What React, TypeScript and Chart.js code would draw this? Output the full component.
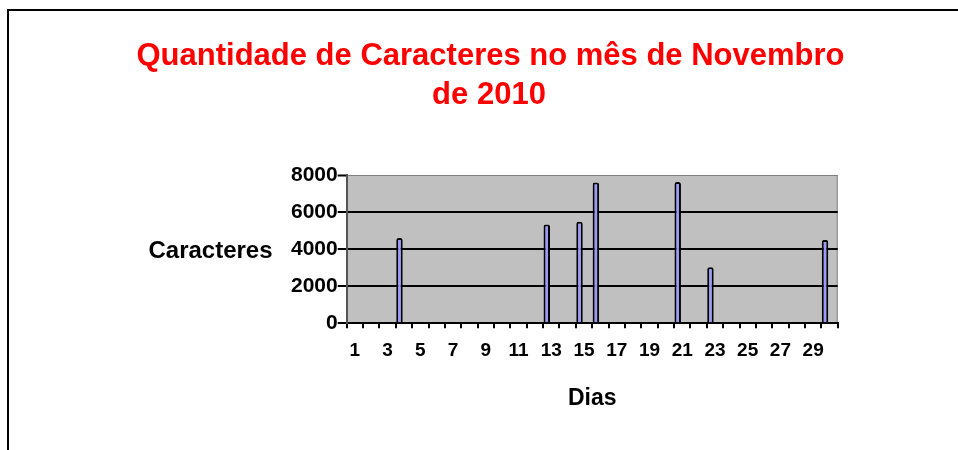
import React, { useEffect, useRef } from "react";
import { Chart, registerables } from "chart.js";

Chart.register(...registerables);

const TITLE_LINES = ["Quantidade de Caracteres no mês de Novembro", "de 2010"];
const Y_TITLE = "Caracteres";
const X_TITLE = "Dias";
const DAYS = [
  "1", "2", "3", "4", "5", "6", "7", "8", "9", "10",
  "11", "12", "13", "14", "15", "16", "17", "18", "19", "20",
  "21", "22", "23", "24", "25", "26", "27", "28", "29", "30",
];
const CHARACTERS = [
  0, 0, 0, 4600, 0, 0, 0, 0, 0, 0,
  0, 0, 5330, 0, 5480, 7590, 0, 0, 0, 0,
  7620, 0, 3020, 0, 0, 0, 0, 0, 0, 4500,
];
const EMPTY_SERIES = DAYS.map(() => null);
const Y_MIN = 0;
const Y_MAX = 8000;
const Y_STEP = 2000;

const FONT = "'Liberation Sans', Arial, Helvetica, sans-serif";

export default function App() {
  const canvasRef = useRef<HTMLCanvasElement | null>(null);

  useEffect(() => {
    const canvas = canvasRef.current;
    if (!canvas) return;

    const plotDecor = {
      id: "plotDecor",
      beforeDraw(chart: any) {
        const { ctx, chartArea } = chart;
        const { left, top, right, bottom } = chartArea;
        ctx.save();
        ctx.fillStyle = "#c0c0c0";
        ctx.fillRect(left, top, right - left, bottom - top);
        ctx.strokeStyle = "#808080";
        ctx.lineWidth = 1;
        ctx.beginPath();
        ctx.moveTo(left, top + 0.5);
        ctx.lineTo(right - 0.5, top + 0.5);
        ctx.lineTo(right - 0.5, bottom);
        ctx.stroke();

        ctx.textAlign = "center";
        ctx.textBaseline = "alphabetic";
        ctx.fillStyle = "#ff0000";
        ctx.font = `bold 31px ${FONT}`;
        ctx.fillText(TITLE_LINES[0], 490.5, 65);
        ctx.fillText(TITLE_LINES[1], 489, 103.5);

        ctx.fillStyle = "#000";
        ctx.font = `bold 24px ${FONT}`;
        ctx.fillText(Y_TITLE, 210.5, 257.5);
        ctx.restore();
      },
    };

    const chart = new Chart(canvas, {
      type: "bar",
      data: {
        labels: DAYS,
        datasets: [
          {
            label: Y_TITLE,
            data: CHARACTERS,
            backgroundColor: "#9999ff",
            borderColor: "#000000",
            borderWidth: 2,
            borderSkipped: "start",
            borderRadius: { topLeft: 2, topRight: 2, bottomLeft: 0, bottomRight: 0 },
            categoryPercentage: 1.1,
            barPercentage: 0.72,
          },
          {
            label: "",
            data: EMPTY_SERIES,
            backgroundColor: "#9999ff",
            categoryPercentage: 1.1,
            barPercentage: 0.72,
          },
        ],
      },
      options: {
        responsive: false,
        animation: false,
        events: [],
        layout: { padding: { left: 142.3, right: 120.3, top: 175, bottom: 0 } },
        plugins: {
          legend: { display: false },
          tooltip: { enabled: false },
          title: { display: false },
        },
        scales: {
          x: {
            offset: true,
            afterFit: (scale: any) => {
              scale.height = 126.7;
            },
            grid: {
              display: true,
              drawOnChartArea: false,
              drawTicks: true,
              offset: true,
              tickLength: 5,
              color: "#000",
              lineWidth: 2,
            },
            border: { display: true, color: "#000", width: 2 },
            ticks: {
              autoSkip: false,
              maxRotation: 0,
              minRotation: 0,
              padding: 11,
              color: "#000",
              font: { family: FONT, size: 19, weight: "bold" },
              callback: (_v: any, i: number) => (i % 2 === 0 ? DAYS[i] : ""),
            },
            title: {
              display: true,
              text: X_TITLE,
              color: "#000",
              font: { family: FONT, size: 23, weight: "bold", lineHeight: 1.2 },
              padding: { top: 0, bottom: 37.2 },
            },
          },
          y: {
            min: Y_MIN,
            max: Y_MAX,
            afterFit: (scale: any) => {
              scale.width = 204.4;
            },
            grid: {
              color: (c: any) => (c.tick && c.tick.value === Y_MAX ? "#808080" : "#000"),
              lineWidth: (c: any) => (c.tick && c.tick.value === Y_MAX ? 1 : 2),
              tickColor: "#000",
              tickWidth: 2,
              tickLength: 9,
              drawTicks: true,
            },
            border: { display: true, color: "#555", width: 2 },
            ticks: {
              stepSize: Y_STEP,
              padding: 0,
              color: "#000",
              font: { family: FONT, size: 21, weight: "bold" },
              callback: (v: any) => String(v),
            },
          },
        },
      },
      plugins: [plotDecor],
    });

    return () => chart.destroy();
  }, []);

  return (
    <div style={{ position: "fixed", left: 0, top: 0, width: 958, height: 450, background: "#fff" }}>
      <div
        style={{
          position: "absolute",
          left: 7,
          top: 9,
          width: 970,
          height: 460,
          borderLeft: "2px solid #000",
          borderTop: "2px solid #000",
        }}
      />
      <canvas
        ref={canvasRef}
        width={958}
        height={450}
        style={{ position: "absolute", left: 0, top: 0, width: 958, height: 450 }}
      />
    </div>
  );
}
